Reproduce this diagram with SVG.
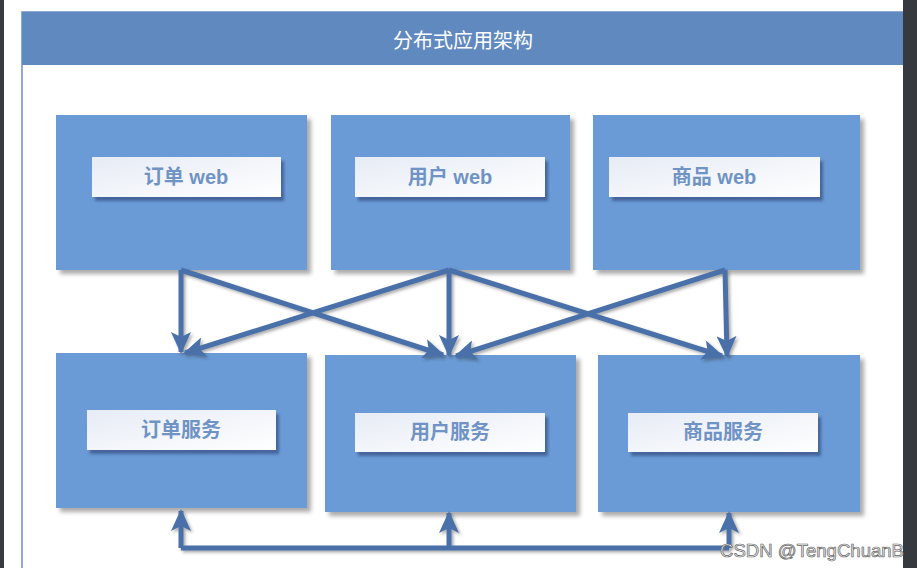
<svg xmlns="http://www.w3.org/2000/svg" width="917" height="568" viewBox="0 0 917 568">
<style>
.box{fill:#6b9bd6;filter:url(#sh)}
.lbl{fill:url(#lg);filter:url(#sh2)}
.t{font-family:"Liberation Sans","Noto Sans CJK SC",sans-serif;font-size:20px;font-weight:bold;fill:#7093c6;text-anchor:middle;dominant-baseline:central}
.c{stroke:#4a70a8;stroke-width:5;fill:none}
</style>
<defs>
<filter id="sh" x="-10%" y="-10%" width="130%" height="130%"><feDropShadow dx="4" dy="4" stdDeviation="2" flood-color="#888" flood-opacity="0.7"/></filter>
<filter id="sh2" x="-10%" y="-20%" width="130%" height="160%"><feDropShadow dx="3" dy="4" stdDeviation="1.5" flood-color="#3f5f95" flood-opacity="0.9"/></filter>
<filter id="sh3" filterUnits="userSpaceOnUse" x="0" y="0" width="917" height="568"><feDropShadow dx="2" dy="2" stdDeviation="1.5" flood-color="#333" flood-opacity="0.4"/></filter>
<linearGradient id="lg" x1="0" y1="0" x2="1" y2="1"><stop offset="0" stop-color="#e6ebf5"/><stop offset="1" stop-color="#ffffff"/></linearGradient>
<marker id="ah" markerUnits="userSpaceOnUse" markerWidth="22" markerHeight="20" refX="20" refY="10" orient="auto"><path d="M0,0 L22,10 L0,20 L5,10 Z" fill="#4a70a8"/></marker>
</defs>
<rect x="0" y="0" width="917" height="568" fill="#ffffff"/>
<rect x="0" y="0" width="4" height="568" fill="#36393e"/>
<rect x="22" y="12" width="900" height="600" fill="#ffffff" stroke="#6a8fc4" stroke-width="1.5"/>
<rect x="22" y="12" width="900" height="53" fill="#6089bf"/>
<text x="463" y="39" font-family="'Noto Sans CJK SC',sans-serif" font-size="20" fill="#ffffff" text-anchor="middle" dominant-baseline="central">分布式应用架构</text>
<g id="n1"><rect class="box" x="56" y="115" width="251" height="155"/><rect class="lbl" x="92" y="157" width="189" height="40"/><text class="t" x="186" y="177">订单 web</text></g>
<g id="n2"><rect class="box" x="331" y="115" width="239" height="155"/><rect class="lbl" x="355" y="157" width="190" height="40"/><text class="t" x="450" y="177">用户 web</text></g>
<g id="n3"><rect class="box" x="593" y="115" width="267" height="155"/><rect class="lbl" x="609" y="157" width="211" height="40"/><text class="t" x="714" y="177">商品 web</text></g>
<g id="n4"><rect class="box" x="56" y="353" width="251" height="155"/><rect class="lbl" x="87" y="410" width="189" height="40"/><text class="t" x="181" y="430">订单服务</text></g>
<g id="n5"><rect class="box" x="325" y="355" width="251" height="157"/><rect class="lbl" x="355" y="413" width="190" height="39"/><text class="t" x="450" y="432">用户服务</text></g>
<g id="n6"><rect class="box" x="598" y="355" width="262" height="157"/><rect class="lbl" x="628" y="413" width="190" height="39"/><text class="t" x="723" y="432">商品服务</text></g>
<g id="connectors" filter="url(#sh3)">
<path class="c" d="M181,270 L181,352" marker-end="url(#ah)"/>
<path class="c" d="M181,270 L443,355" marker-end="url(#ah)"/>
<path class="c" d="M449,270 L185,353" marker-end="url(#ah)"/>
<path class="c" d="M449,270 L449,355" marker-end="url(#ah)"/>
<path class="c" d="M449,270 L722,356" marker-end="url(#ah)"/>
<path class="c" d="M725,270 L456,356" marker-end="url(#ah)"/>
<path class="c" d="M725,270 L727,356" marker-end="url(#ah)"/>
<path class="c" d="M181,548 L729,548"/>
<path class="c" d="M181,548 L181,511" marker-end="url(#ah)"/>
<path class="c" d="M449,548 L449,513" marker-end="url(#ah)"/>
<path class="c" d="M729,548 L729,513" marker-end="url(#ah)"/>
</g>
<rect x="903" y="0" width="14" height="568" fill="#36393e"/>
<text x="720" y="557" font-family="'Liberation Sans',sans-serif" font-size="18" textLength="184" lengthAdjust="spacingAndGlyphs" fill="#f4f4f4" stroke="#666" stroke-width="0.7">CSDN @TengChuanB</text>
</svg>
